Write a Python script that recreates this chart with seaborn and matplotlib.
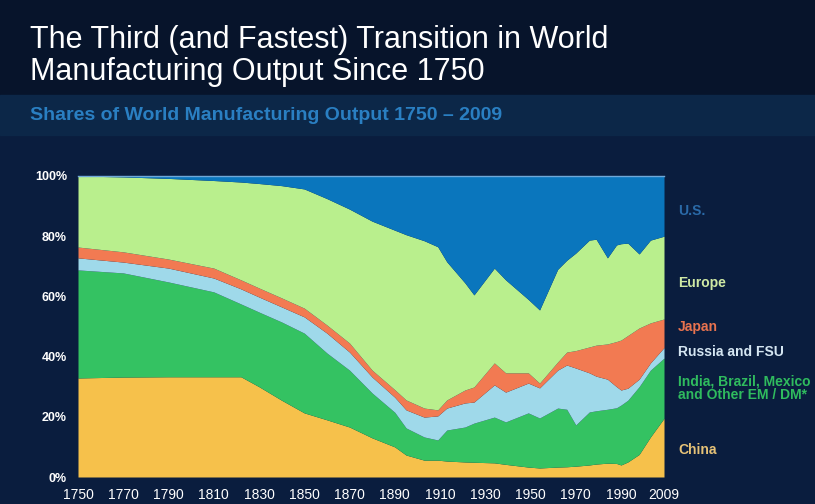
import matplotlib.pyplot as plt
import matplotlib
import numpy as np
import pandas as pd
import seaborn as sns

# reading of the chart: shares (%) of world manufacturing output
years = [1750, 1770, 1790, 1810, 1822, 1830, 1840, 1850, 1860, 1870, 1880, 1890,
         1895, 1903, 1909, 1913, 1921, 1925, 1934, 1939, 1949, 1954, 1962, 1966,
         1970, 1976, 1979, 1984, 1988, 1990, 1993, 1998, 2003, 2009]
china = [32.9, 33.2, 33.3, 33.3, 33.3, 30.0, 25.5, 21.3, 19.0, 16.6, 13.0, 10.0,
         7.3, 5.6, 5.6, 5.3, 5.0, 4.9, 4.7, 4.2, 3.3, 3.0, 3.3, 3.4,
         3.6, 4.0, 4.3, 4.6, 4.5, 4.0, 5.0, 7.5, 13.3, 19.5]
india_other = [35.9, 34.6, 31.5, 28.2, 24.2, 24.8, 26.0, 26.5, 22.2, 18.9, 14.9, 11.5,
               9.0, 7.7, 6.7, 10.3, 11.6, 13.0, 15.2, 14.1, 18.0, 16.6, 19.6, 19.1,
               13.7, 17.6, 17.7, 17.9, 18.5, 19.9, 20.5, 22.5, 22.2, 20.0]
russia = [4.0, 3.6, 4.6, 4.6, 5.0, 5.0, 5.0, 5.4, 6.6, 6.0, 5.3, 5.0,
          6.0, 6.6, 8.0, 7.3, 8.0, 7.0, 10.7, 9.9, 9.9, 10.0, 12.6, 14.7,
          18.9, 13.0, 11.5, 10.0, 7.0, 5.0, 4.0, 2.5, 2.4, 3.5]
japan = [3.6, 3.4, 3.0, 3.3, 3.0, 3.0, 3.0, 2.9, 2.7, 3.0, 2.3, 2.5,
         3.3, 3.0, 2.0, 2.7, 4.3, 5.0, 7.3, 6.4, 3.4, 1.6, 2.7, 4.3,
         5.8, 8.6, 10.3, 11.7, 15.0, 16.6, 17.5, 17.0, 13.3, 9.5]
europe = [23.6, 24.9, 26.8, 29.1, 32.5, 34.7, 37.3, 39.6, 42.0, 44.5, 49.5, 53.0,
          54.9, 55.6, 54.2, 45.9, 35.6, 30.6, 31.5, 30.9, 24.4, 24.3, 30.8, 30.5,
          32.4, 35.5, 35.2, 28.6, 32.1, 32.0, 30.7, 24.6, 27.5, 27.5]
us = [0.0, 0.3, 0.8, 1.5, 2.0, 2.5, 3.2, 4.3, 7.5, 11.0, 15.0, 18.0,
      19.5, 21.5, 23.5, 28.5, 35.5, 39.5, 30.6, 34.5, 41.0, 44.5, 31.0, 28.0,
      25.6, 21.3, 21.0, 27.2, 22.9, 22.5, 22.3, 25.9, 21.3, 20.0]

regions = ["China", "India, Brazil, Mexico\nand Other EM / DM*", "Russia and FSU",
           "Japan", "Europe", "U.S."]
fill_colors = ["#f6c14b", "#34c262", "#9fd9ea", "#f27a52", "#b9ef8d", "#0a76bd"]
text_colors = ["#e6c277", "#2fbb5e", "#d5e6f2", "#e9734f", "#cfe9a4", "#2a6aa8"]

x_ticks = [1750, 1770, 1790, 1810, 1830, 1850, 1870, 1890, 1910, 1930, 1950, 1970, 1990, 2009]
y_ticks = [0, 20, 40, 60, 80, 100]

df = pd.DataFrame({"year": years, "China": china, "India": india_other, "Russia": russia,
                   "Japan": japan, "Europe": europe, "US": us})

sns.set_theme(style="dark")
plt.rcParams['font.family'] = ['Liberation Sans', 'DejaVu Sans']

bg = "#0a1d3e"
fig = plt.figure(figsize=(8.15, 5.04), dpi=100, facecolor=bg)

# header bands
fig.patches.append(matplotlib.patches.Rectangle((0, 1 - 95 / 504), 1, 95 / 504,
                                                transform=fig.transFigure, color="#07142b", zorder=0))
fig.patches.append(matplotlib.patches.Rectangle((0, 1 - 135 / 504), 1, 40 / 504,
                                                transform=fig.transFigure, color="#0c2748", zorder=0))
fig.text(30 / 815, 1 - 25 / 504, "The Third (and Fastest) Transition in World\nManufacturing Output Since 1750",
         color="white", fontsize=22, va="top", ha="left", linespacing=1.08)
fig.text(30 / 815, 1 - 116 / 504, "Shares of World Manufacturing Output 1750 \u2013 2009",
         color="#2a7fc2", fontsize=14, fontweight="bold", va="center", ha="left")

ax = fig.add_axes([78 / 815, 27 / 504, 586 / 815, 301 / 504])
ax.set_facecolor(bg)
cols = ["China", "India", "Russia", "Japan", "Europe", "US"]
ax.stackplot(df["year"], [df[c] for c in cols], colors=fill_colors, linewidth=0)
ax.set_xlim(1750, 2009)
ax.set_ylim(0, 100)
ax.set_xticks(x_ticks)
ax.set_xticklabels([str(t) for t in x_ticks], color="white", fontsize=10)
ax.set_yticks(y_ticks)
ax.set_yticklabels([f"{t}%" for t in y_ticks], color="white", fontsize=9, fontweight="bold")
ax.tick_params(axis="x", pad=8, length=0)
ax.tick_params(axis="y", pad=8, length=0)
ax.grid(False)
for s in ["left", "right", "bottom"]:
    ax.spines[s].set_visible(False)
ax.spines["top"].set_color("#6fa8d8")
ax.spines["top"].set_linewidth(1)

# labels on the right
label_y = [450, 388, 352, 327, 283, 211]
for name, c, yy in zip(regions, text_colors, label_y):
    fig.text(678 / 815, 1 - yy / 504, name, color=c, fontsize=10, fontweight="bold",
             va="center", ha="left", linespacing=0.95)

plt.savefig("out.png", dpi=100, facecolor=bg)
